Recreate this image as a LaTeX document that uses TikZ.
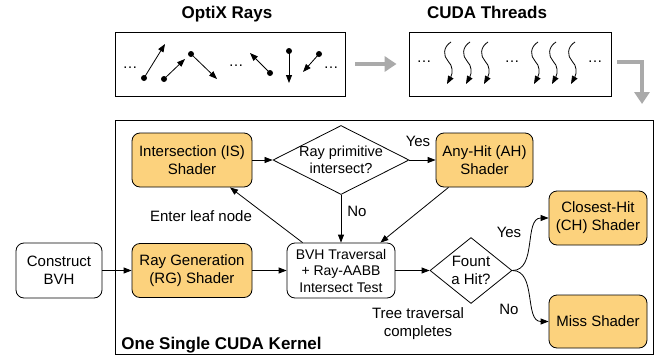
\documentclass[tikz,border=0pt]{standalone}
\usepackage{fontspec}
\setmainfont{Liberation Sans}
\usepackage{xcolor}
\usetikzlibrary{shapes.geometric,arrows.meta}
\definecolor{shaderfill}{RGB}{252,210,125}
\definecolor{arrowgray}{RGB}{170,170,170}
\tikzset{box/.style={draw,rounded corners=8pt,align=center,inner sep=2pt,font=\fontsize{15}{18}\selectfont},
    shd/.style={box,fill=shaderfill,minimum width=120pt,minimum height=54pt},
    dec/.style={diamond,draw,inner sep=0pt},
    lbl/.style={align=center,inner sep=0pt,font=\fontsize{15}{18}\selectfont},
    ttl/.style={inner sep=0pt,font=\fontsize{17}{20}\selectfont\bfseries},
    fat/.style={arrowgray,line width=4.5pt,-{Triangle[length=12pt,width=15pt]}}}

\begin{document}
\begin{tikzpicture}[x=1pt,y=-1pt,>={Triangle[length=8pt,width=6pt]},line width=0.8pt]
    \useasboundingbox (0,0) rectangle (662,362);

    % rays and threads
    \node[ttl,anchor=base] (tr) at (227,18.5) {OptiX Rays};
    \node[ttl,anchor=base] (tt) at (487,18.5) {CUDA Threads};
    \node[draw,minimum width=230pt,minimum height=64pt] (rays) at (230,64) {};
    \node[draw,minimum width=202pt,minimum height=64pt] (thr) at (510,64) {};
    \node[lbl] (rd1) at (130,68) {…};
    \node[lbl] (rd2) at (236,66) {…};
    \node[lbl] (rd3) at (331,68) {…};
    \node[lbl] (td1) at (424,62) {…};
    \node[lbl] (td2) at (512,62) {…};
    \node[lbl] (td3) at (595,62) {…};
    \foreach \xa/\ya/\xb/\yb in {144/78/165/44,164/79/185/59,191/54/217/79,270/73/250/53,289/51/289/83,319/54/303/72}{
        \fill (\xa,\ya) circle (3pt);
        \draw[->] (\xa,\ya) -- (\xb,\yb);
    }
    \foreach \x in {448,467,485,535,553,572}
        \draw[->] (\x+3,42) .. controls (\x-5,47) and (\x-5,56) .. (\x,61) .. controls (\x+5,66) and (\x+5,73) .. (\x-1,84);
    \coordinate (down) at (642,104);
    \draw[fat] ([xshift=10pt]rays.east) -- ([xshift=-12pt]thr.west);
    \draw[fat] ([xshift=6pt,yshift=2pt]thr.east) -| (down);

    % kernel
    \node[draw,minimum width=538pt,minimum height=234pt] (kern) at (384,237) {};
    \node[ttl,anchor=base west] (kt) at (121,349) {One Single CUDA Kernel};

    \node[box,minimum width=86pt,minimum height=55pt] (cbvh) at (59,270.5) {Construct\\BVH};
    \node[shd] (rg) at (192,270.5) {Ray Generation\\(RG) Shader};
    \node[shd] (is) at (192,160) {Intersection (IS)\\Shader};
    \node[dec,minimum width=136pt,minimum height=69pt,
        label={[lbl,font=\fontsize{14.5}{17}\selectfont]center:{Ray primitive\\intersect?}}] (prim) at (341,160) {};
    \node[shd,minimum width=97pt] (ah) at (484.5,160) {Any-Hit (AH)\\Shader};
    \node[box,minimum width=108pt,minimum height=55pt,font=\fontsize{14}{16.5}\selectfont] (bvh) at (341,270.5) {BVH Traversal\\+ Ray-AABB\\Intersect Test};
    \node[dec,minimum width=82pt,minimum height=66pt,
        label={[lbl]center:{Fount\\a Hit?}}] (hit) at (471,270.5) {};
    \node[shd,minimum width=98pt] (ch) at (598,218) {Closest-Hit\\(CH) Shader};
    \node[shd,minimum width=98pt,minimum height=53pt] (miss) at (598,321.5) {Miss Shader};

    \draw[->] (cbvh) -- (rg);
    \draw[->] (rg) -- (bvh);
    \draw[->] (bvh) -- (hit);
    \draw[->] ([xshift=16pt]bvh.north west) -- ([xshift=38pt]is.south);
    \draw[->] (is) -- (prim);
    \draw[->] (prim) -- (ah);
    \draw[->] (prim) -- (bvh);
    \draw[->] ([xshift=-36pt]ah.south) -- ([xshift=-15pt]bvh.north east);
    \draw[->] (hit.east) to[out=0,in=180] (ch.west);
    \draw[->] (hit.east) to[out=0,in=180] (miss.west);

    \node[lbl] (yes1) at (418,141) {Yes};
    \node[lbl] (no1) at (357,211) {No};
    \node[lbl] (yes2) at (509,232) {Yes};
    \node[lbl] (no2) at (509,309) {No};
    \node[lbl] (leaf) at (201,216) {Enter leaf node};
    \node[lbl] (done) at (418,324) {Tree traversal\\completes};
\end{tikzpicture}
\end{document}
